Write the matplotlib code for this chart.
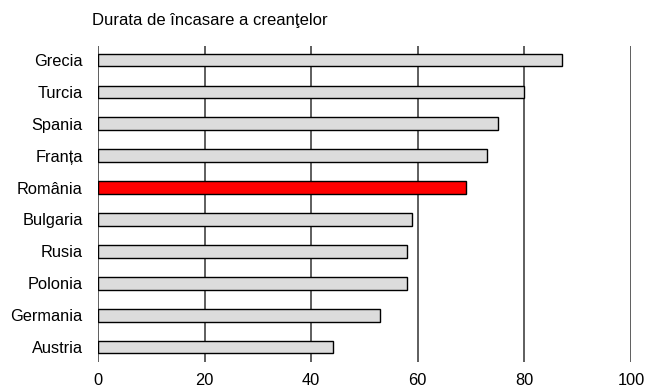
import matplotlib
matplotlib.use("Agg")
import matplotlib.pyplot as plt

countries = ["Grecia", "Turcia", "Spania", "Franța", "România",
             "Bulgaria", "Rusia", "Polonia", "Germania", "Austria"]
values = [87, 80, 75, 73, 69, 59, 58, 58, 53, 44]
highlight = "România"
xticks = [0, 20, 40, 60, 80, 100]
title = "Durata de încasare a creanţelor"

plt.rcParams['font.family'] = ['Liberation Sans', 'DejaVu Sans']

fig = plt.figure(figsize=(6.46, 3.9), dpi=100)
ax = fig.add_axes([98/646, 1-362/390, (631-98)/646, (362-46)/390])

n = len(countries)
ypos = [n - 1 - i for i in range(n)]
colors = ["#ff0000" if c == highlight else "#dcdcdc" for c in countries]

for x in xticks:
    ax.axvline(x, color="#333333", lw=1.1, zorder=1)

ax.barh(ypos, values, height=0.4, color=colors, edgecolor="black", linewidth=1.0, zorder=2)

ax.set_xlim(0, 100)
ax.set_ylim(-0.47, n - 1 + 0.44)
ax.set_yticks(ypos)
ax.set_yticklabels(countries, fontsize=11.8)
ax.set_xticks(xticks)
ax.set_xticklabels([str(x) for x in xticks], fontsize=11.8)
ax.tick_params(axis='both', length=0)
ax.tick_params(axis='x', pad=8)
ax.tick_params(axis='y', pad=11)
for s in ax.spines.values():
    s.set_visible(False)

fig.text(92/646, 1-20/390, title, fontsize=12, ha="left", va="center")

fig.savefig("out.png", dpi=100)
